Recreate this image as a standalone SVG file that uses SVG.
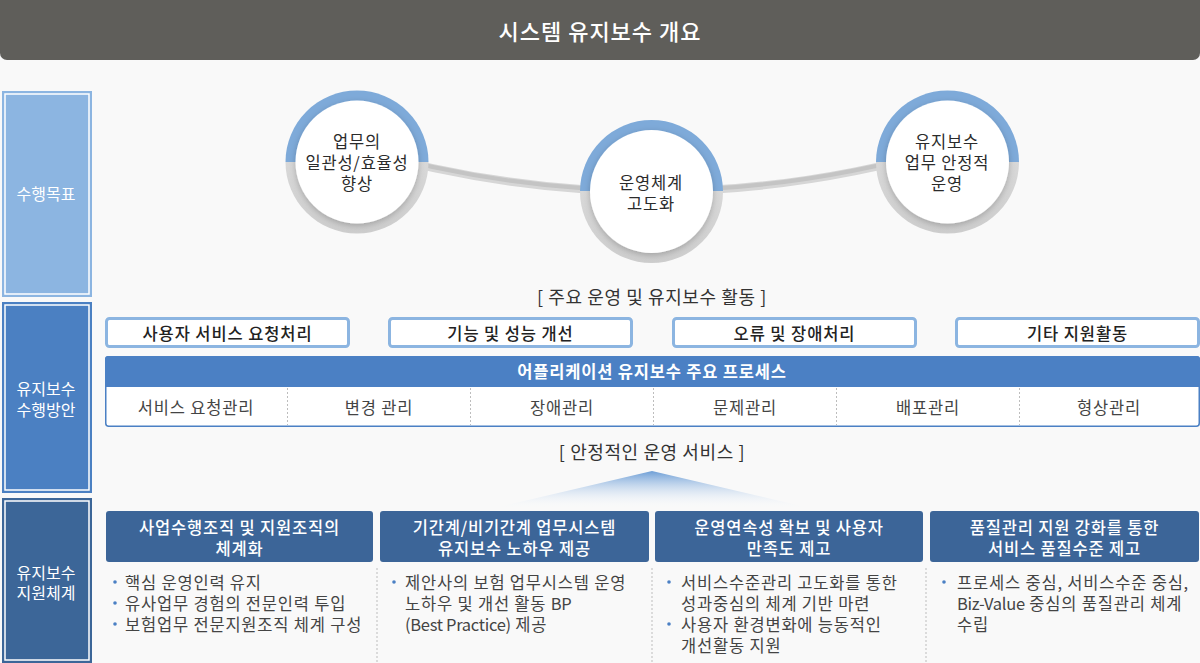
<svg xmlns="http://www.w3.org/2000/svg" width="1200" height="663" viewBox="0 0 1200 663">
<defs>
<style>
text{font-family:"Noto Sans CJK KR","Noto Sans",sans-serif;text-anchor:middle;dominant-baseline:central}
.lbl{fill:#fff;font-size:16px}
.ct{fill:#2b2b2b;font-size:16.5px;letter-spacing:0.8px}
.act{fill:#fff;stroke:#8cb5e1;stroke-width:3}
.actt{fill:#222;font-size:16.5px;font-weight:500;letter-spacing:0.9px}
.pc{fill:#444;font-size:16.5px;letter-spacing:0.8px}
.hd{fill:#3c6598}
.hdt{fill:#fff;font-size:16.5px;font-weight:500;letter-spacing:0.8px}
.bt{fill:#444;font-size:16.5px;text-anchor:start;letter-spacing:0.8px}
.lat{letter-spacing:-0.3px}
.br{fill:#333;font-size:18px;letter-spacing:0.6px}
.dot{fill:#4b80c4}
.dash{stroke:#bdbdbd;stroke-width:1;stroke-dasharray:2 2;fill:none}
</style>
<linearGradient id="ring" x1="0" y1="0" x2="0" y2="1">
<stop offset="0" stop-color="#7eaad9"/><stop offset="0.5" stop-color="#7eaad9"/>
<stop offset="0.5" stop-color="#d8d8d8"/><stop offset="1" stop-color="#cdcdcd"/>
</linearGradient>
<linearGradient id="tri" x1="0" y1="0" x2="0" y2="1">
<stop offset="0" stop-color="#6d9ed6" stop-opacity="1"/><stop offset="1" stop-color="#ffffff" stop-opacity="0"/>
</linearGradient>
<filter id="sh" x="-30%" y="-30%" width="160%" height="160%">
<feDropShadow dx="0" dy="2" stdDeviation="3" flood-color="#000" flood-opacity="0.22"/>
</filter>
</defs>
<rect x="0" y="0" width="1200" height="663" fill="#f9f9f9"/>
<g id="title">
<rect x="0" y="-10" width="1200" height="70" rx="7" fill="#5f5e5a"/>
<text x="600" y="30" style="fill:#fff;font-size:22px;font-weight:500;letter-spacing:1px">시스템 유지보수 개요</text>
</g>
<g id="side-goal">
<rect x="2" y="91" width="90" height="206" fill="#8cb5e1"/>
<rect x="5" y="94" width="84" height="200" fill="none" stroke="#fff" stroke-width="1.5"/>
<text class="lbl" x="46" y="193">수행목표</text>
</g>
<g id="side-plan">
<rect x="2" y="302" width="90" height="191" fill="#4b80c2"/>
<rect x="5" y="305" width="84" height="185" fill="none" stroke="#fff" stroke-width="1.5"/>
<text class="lbl" x="46" y="388">유지보수</text>
<text class="lbl" x="46" y="409">수행방안</text>
</g>
<g id="side-support">
<rect x="2" y="498" width="90" height="165" fill="#3c6698"/>
<rect x="5" y="501" width="84" height="159" fill="none" stroke="#fff" stroke-width="1.5"/>
<text class="lbl" x="46" y="572">유지보수</text>
<text class="lbl" x="46" y="592">지원체계</text>
</g>
<g id="connectors">
<path d="M357,149 Q652,234 947,149" fill="none" stroke="#d6d6d6" stroke-width="8"/>
<path d="M357,148 Q652,233 947,148" fill="none" stroke="#c4c4c4" stroke-width="4"/>
</g>
<g id="goal1">
<circle cx="357" cy="162" r="71.5" fill="url(#ring)"/>
<circle cx="357" cy="162" r="61.5" fill="#fff" filter="url(#sh)"/>
<text class="ct" x="357" y="141">업무의</text>
<text class="ct" x="357" y="162">일관성/효율성</text>
<text class="ct" x="357" y="183">향상</text>
</g>
<g id="goal2">
<circle cx="651.5" cy="191.5" r="71.5" fill="url(#ring)"/>
<circle cx="651.5" cy="191.5" r="61.5" fill="#fff" filter="url(#sh)"/>
<text class="ct" x="651" y="182">운영체계</text>
<text class="ct" x="651" y="203">고도화</text>
</g>
<g id="goal3">
<circle cx="947.5" cy="162" r="71.5" fill="url(#ring)"/>
<circle cx="947.5" cy="162" r="61.5" fill="#fff" filter="url(#sh)"/>
<text class="ct" x="947" y="141">유지보수</text>
<text class="ct" x="947" y="162">업무 안정적</text>
<text class="ct" x="947" y="183">운영</text>
</g>
<text class="br" x="652" y="296">[ 주요 운영 및 유지보수 활동 ]</text>
<g id="act1"><rect class="act" x="106.5" y="318.5" width="242" height="28" rx="3"/><text class="actt" x="227.5" y="332.5">사용자 서비스 요청처리</text></g>
<g id="act2"><rect class="act" x="389.5" y="318.5" width="242" height="28" rx="3"/><text class="actt" x="510.5" y="332.5">기능 및 성능 개선</text></g>
<g id="act3"><rect class="act" x="673.5" y="318.5" width="242" height="28" rx="3"/><text class="actt" x="794.5" y="332.5">오류 및 장애처리</text></g>
<g id="act4"><rect class="act" x="956.5" y="318.5" width="242" height="28" rx="3"/><text class="actt" x="1077.5" y="332.5">기타 지원활동</text></g>
<g id="process">
<rect x="105.75" y="356.75" width="1093.5" height="69.5" rx="3" fill="#fff" stroke="#4b80c4" stroke-width="1.5"/>
<path d="M105,359 a3,3 0 0 1 3,-3 h1089 a3,3 0 0 1 3,3 v28 h-1095 z" fill="#4b80c4"/>
<text x="652" y="371" style="fill:#fff;font-size:16.5px;font-weight:700;letter-spacing:0.8px">어플리케이션 유지보수 주요 프로세스</text>
<line class="dash" x1="287.5" y1="388" x2="287.5" y2="425"/>
<line class="dash" x1="470.5" y1="388" x2="470.5" y2="425"/>
<line class="dash" x1="653.5" y1="388" x2="653.5" y2="425"/>
<line class="dash" x1="836.5" y1="388" x2="836.5" y2="425"/>
<line class="dash" x1="1019.5" y1="388" x2="1019.5" y2="425"/>
<text class="pc" x="196" y="407">서비스 요청관리</text>
<text class="pc" x="379" y="407">변경 관리</text>
<text class="pc" x="562" y="407">장애관리</text>
<text class="pc" x="745" y="407">문제관리</text>
<text class="pc" x="928" y="407">배포관리</text>
<text class="pc" x="1109" y="407">형상관리</text>
</g>
<text class="br" x="652" y="451">[ 안정적인 운영 서비스 ]</text>
<polygon points="652,471 490,509 814,509" fill="url(#tri)"/>
<g id="sup1">
<rect class="hd" x="106" y="511" width="267" height="51" rx="3"/>
<text class="hdt" x="239.5" y="527">사업수행조직 및 지원조직의</text>
<text class="hdt" x="239.5" y="548">체계화</text>
<circle class="dot" cx="115" cy="582" r="1.8"/><text class="bt" x="125" y="582">핵심 운영인력 유지</text>
<circle class="dot" cx="115" cy="603" r="1.8"/><text class="bt" x="125" y="603">유사업무 경험의 전문인력 투입</text>
<circle class="dot" cx="115" cy="624" r="1.8"/><text class="bt" x="125" y="624">보험업무 전문지원조직 체계 구성</text>
</g>
<g id="sup2">
<rect class="hd" x="380" y="511" width="269" height="51" rx="3"/>
<text class="hdt" x="514.5" y="527">기간계/비기간계 업무시스템</text>
<text class="hdt" x="514.5" y="548">유지보수 노하우 제공</text>
<circle class="dot" cx="394" cy="582" r="1.8"/><text class="bt" x="405" y="582">제안사의 보험 업무시스템 운영</text>
<text class="bt" x="405" y="603">노하우 및 개선 활동 <tspan class="lat">BP</tspan></text>
<text class="bt" x="405" y="624"><tspan class="lat">(Best Practice)</tspan> 제공</text>
</g>
<g id="sup3">
<rect class="hd" x="655" y="511" width="268" height="51" rx="3"/>
<text class="hdt" x="789" y="527">운영연속성 확보 및 사용자</text>
<text class="hdt" x="789" y="548">만족도 제고</text>
<circle class="dot" cx="669" cy="582" r="1.8"/><text class="bt" x="681" y="582">서비스수준관리 고도화를 통한</text>
<text class="bt" x="681" y="603">성과중심의 체계 기반 마련</text>
<circle class="dot" cx="669" cy="624" r="1.8"/><text class="bt" x="681" y="624">사용자 환경변화에 능동적인</text>
<text class="bt" x="681" y="645">개선활동 지원</text>
</g>
<g id="sup4">
<rect class="hd" x="930" y="511" width="269" height="51" rx="3"/>
<text class="hdt" x="1064.5" y="527">품질관리 지원 강화를 통한</text>
<text class="hdt" x="1064.5" y="548">서비스 품질수준 제고</text>
<circle class="dot" cx="944" cy="582" r="1.8"/><text class="bt" x="957" y="582">프로세스 중심, 서비스수준 중심,</text>
<text class="bt" x="957" y="603"><tspan class="lat">Biz-Value</tspan> 중심의 품질관리 체계</text>
<text class="bt" x="957" y="624">수립</text>
</g>
<g id="separators">
<line class="dash" x1="377" y1="568" x2="377" y2="663"/>
<line class="dash" x1="652" y1="568" x2="652" y2="663"/>
<line class="dash" x1="926" y1="568" x2="926" y2="663"/>
</g>
</svg>
